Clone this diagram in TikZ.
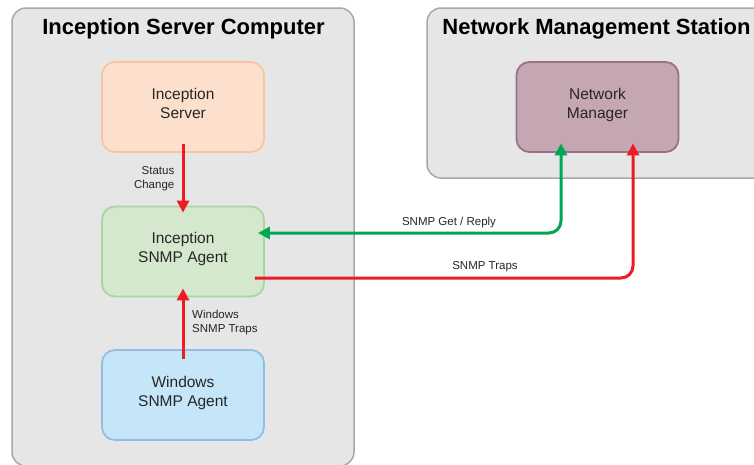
\documentclass[tikz,border=0pt]{standalone}
\usepackage{fontspec}
\setmainfont{Liberation Sans}
\usepackage{tikz}
\usetikzlibrary{arrows.meta}

\definecolor{panelfill}{HTML}{E6E6E6}
\definecolor{paneldraw}{HTML}{A8A8A8}
\definecolor{srvfill}{HTML}{FCE0CD}
\definecolor{srvdraw}{HTML}{F8C69E}
\definecolor{agtfill}{HTML}{D3E8CC}
\definecolor{agtdraw}{HTML}{A8D5A0}
\definecolor{winfill}{HTML}{C5E6F9}
\definecolor{windraw}{HTML}{92BEE6}
\definecolor{nmfill}{HTML}{C5A7B4}
\definecolor{nmdraw}{HTML}{9B7187}
\definecolor{trapred}{HTML}{ED1C24}
\definecolor{getgreen}{HTML}{00A651}

\begin{document}
\begin{tikzpicture}[x=1pt, y=-1pt,
    panel/.style={draw=paneldraw, fill=panelfill, line width=1.5pt, rounded corners=14pt},
    box/.style={align=center, rounded corners=13pt, line width=1.8pt, minimum width=162pt, minimum height=90pt,
                text depth=8pt, font=\fontsize{15.5}{19}\selectfont, text=black!85},
    title/.style={anchor=base, font=\fontsize{22}{26}\selectfont\bfseries},
    lbl/.style={font=\fontsize{11.5}{14}\selectfont, text=black!85, inner sep=0pt},
    flow/.style={line width=3pt, rounded corners=12pt, -{Triangle[length=12pt,width=12pt]}}]
    \clip (0,0) rectangle (754,464);

    \node[panel, minimum width=342pt, minimum height=458pt]  (isc)  at (183, 237)   {};
    \node[panel, minimum width=380pt, minimum height=170pt]  (nms)  at (617,  93)   {};
    \node[title]  (isct)  at (183.5, 34)    {Inception Server Computer};
    \node[title]  (nmst)  at (596.5, 34)    {Network Management Station};

    \node[box, draw=srvdraw, fill=srvfill]  (srv)    at (183,   107)    {Inception \\ Server};
    \node[box, draw=agtdraw, fill=agtfill]  (agent)  at (183, 251.5)    {Inception \\ SNMP Agent};
    \node[box, draw=windraw, fill=winfill]  (win)    at (183,   395)    {Windows \\ SNMP Agent};
    \node[box, draw=nmdraw,  fill=nmfill]   (nm)     at (597.5, 107)    {Network \\ Manager};

    % connectors
    \draw[flow, trapred]  ([yshift=9pt]srv.south) -- ([yshift=-7pt]agent.north);
    \draw[flow, trapred]  ([yshift=-10pt]win.north) -- ([yshift=9pt]agent.south);
    \draw[flow, getgreen, {Triangle[length=12pt,width=12pt]}-{Triangle[length=12pt,width=12pt]}]
        ([xshift=-7pt, yshift=18.5pt]agent.east) -| ([xshift=-36.5pt, yshift=9.5pt]nm.south);
    \draw[flow, trapred]  ([xshift=-10pt, yshift=-26.5pt]agent.east) -| ([xshift=35.5pt, yshift=9.5pt]nm.south);

    % labels
    \node[lbl, align=right, anchor=north east]  (stat)  at (174.5, 166)   {Status \\ Change};
    \node[lbl, align=left,  anchor=north west]  (wtrap) at (192,   310)   {Windows \\ SNMP Traps};
    \node[lbl, anchor=base]                     (get)   at (449,   225)   {SNMP Get / Reply};
    \node[lbl, anchor=base]                     (trap)  at (485,   269)   {SNMP Traps};
\end{tikzpicture}
\end{document}
